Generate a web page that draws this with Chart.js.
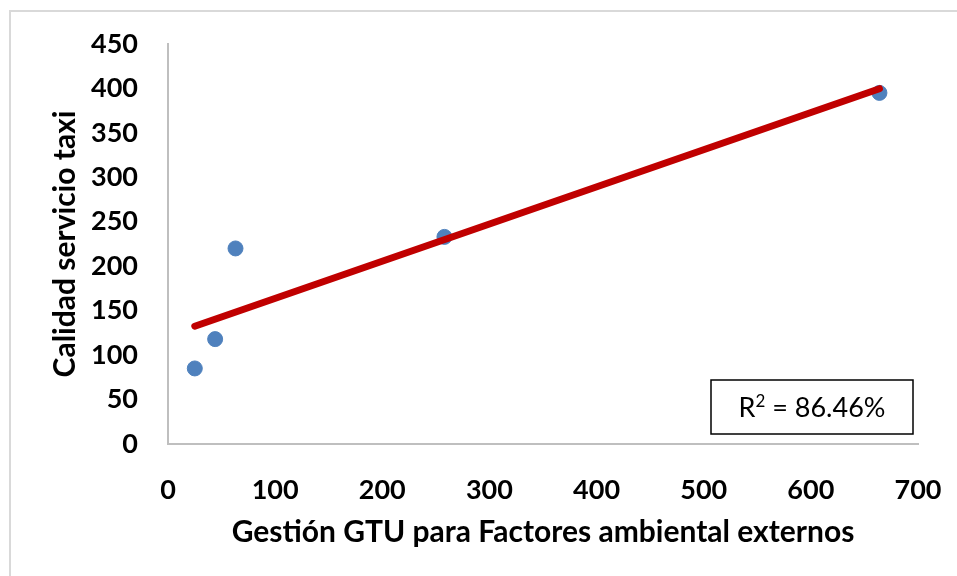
<!DOCTYPE html>
<html>
<head>
<meta charset="utf-8">
<script src="https://cdn.jsdelivr.net/npm/chart.js@4.4.1/dist/chart.umd.min.js"></script>
<style>
  html, body { margin: 0; padding: 0; background: #ffffff; }
  #wrap { width: 957px; height: 576px; position: relative; }
</style>
</head>
<body>
<div id="wrap"><canvas id="c" width="957" height="576"></canvas></div>
<script>
// Observations: management score (x) vs. taxi service quality (y)
const gestionGTU = [25, 44, 63, 258, 664];
const calidadServicio = [85, 118, 220, 233, 395];
const xTicks = [0, 100, 200, 300, 400, 500, 600, 700];
const yTicks = [0, 50, 100, 150, 200, 250, 300, 350, 400, 450];
const r2Parts = ['R', '2', ' = 86.46%'];

const xTitle = 'Gestión GTU para Factores ambiental externos';
const yTitle = 'Calidad servicio taxi';

// Least-squares linear fit over the observed points
function linearFit(xs, ys) {
  const n = xs.length;
  const mx = xs.reduce((a, b) => a + b, 0) / n;
  const my = ys.reduce((a, b) => a + b, 0) / n;
  let sxy = 0, sxx = 0;
  for (let i = 0; i < n; i++) {
    sxy += (xs[i] - mx) * (ys[i] - my);
    sxx += (xs[i] - mx) * (xs[i] - mx);
  }
  const slope = sxy / sxx;
  return { slope, intercept: my - slope * mx };
}
const fit = linearFit(gestionGTU, calidadServicio);
const xMin = Math.min(...gestionGTU), xMax = Math.max(...gestionGTU);
const trendPoints = [xMin, xMax].map(x => ({ x, y: fit.intercept + fit.slope * x }));

const scatterPoints = gestionGTU.map((x, i) => ({ x, y: calidadServicio[i] }));

const FONT = 'Lato, "Open Sans", sans-serif';
const AXIS_GREY = '#bfbfbf';

// Light frame around the chart (top and left edges of the frame are in view)
const framePlugin = {
  id: 'frame',
  beforeDraw(chart) {
    const ctx = chart.ctx;
    ctx.save();
    ctx.strokeStyle = '#d9d9d9';
    ctx.lineWidth = 2;
    ctx.beginPath();
    ctx.moveTo(10, chart.height + 2);
    ctx.lineTo(10, 11);
    ctx.lineTo(chart.width + 2, 11);
    ctx.stroke();
    ctx.restore();
  }
};

// Boxed R² annotation in the lower-right of the plot area
const r2Plugin = {
  id: 'r2box',
  afterDatasetsDraw(chart) {
    const { ctx, chartArea } = chart;
    const w = 202, h = 54;
    const x = chartArea.right - 5 - w;
    const y = chartArea.bottom - 10 - h;
    ctx.save();
    ctx.fillStyle = '#ffffff';
    ctx.fillRect(x, y, w, h);
    ctx.strokeStyle = '#000000';
    ctx.lineWidth = 1.5;
    ctx.strokeRect(x, y, w, h);
    ctx.fillStyle = '#000000';
    ctx.textBaseline = 'alphabetic';
    ctx.textAlign = 'left';
    const big = '27px ' + FONT, small = '17px ' + FONT;
    ctx.font = big;
    const wR = ctx.measureText(r2Parts[0]).width;
    const wRest = ctx.measureText(r2Parts[2]).width;
    ctx.font = small;
    const wSup = ctx.measureText(r2Parts[1]).width;
    const total = wR + wSup + wRest;
    let tx = x + (w - total) / 2;
    const base = y + h / 2 + 10;
    ctx.font = big;
    ctx.fillText(r2Parts[0], tx, base);
    tx += wR;
    ctx.font = small;
    ctx.fillText(r2Parts[1], tx, base - 10);
    tx += wSup;
    ctx.font = big;
    ctx.fillText(r2Parts[2], tx, base);
    ctx.restore();
  }
};

new Chart(document.getElementById('c'), {
  type: 'scatter',
  data: {
    datasets: [
      {
        type: 'line',
        label: 'Tendencia',
        data: trendPoints,
        borderColor: '#c00000',
        borderWidth: 7,
        borderCapStyle: 'round',
        pointRadius: 0,
        fill: false,
        order: 0
      },
      {
        label: 'Observaciones',
        data: scatterPoints,
        backgroundColor: '#4f81bd',
        borderColor: '#4f81bd',
        pointRadius: 7.5,
        pointHoverRadius: 7.5,
        order: 1
      }
    ]
  },
  options: {
    responsive: false,
    animation: false,
    devicePixelRatio: 1,
    layout: { padding: { left: 0, top: 44, right: 39, bottom: 0 } },
    plugins: {
      legend: { display: false },
      tooltip: { enabled: false }
    },
    scales: {
      x: {
        type: 'linear',
        min: 0,
        max: 700,
        afterBuildTicks(axis) { axis.ticks = xTicks.map(v => ({ value: v })); },
        afterFit(axis) {
          axis.height = 576 - 444;
          axis.paddingLeft = 0;
          axis.paddingRight = 0;
        },
        border: { display: true, color: AXIS_GREY, width: 2 },
        grid: { display: false, drawTicks: false },
        ticks: {
          color: '#000000',
          padding: 30,
          maxRotation: 0,
          font: { family: FONT, size: 27, weight: 'bold' }
        },
        title: {
          display: true,
          text: xTitle,
          color: '#000000',
          font: { family: FONT, size: 30, weight: 'bold' },
          padding: { top: 0, bottom: 26 }
        }
      },
      y: {
        type: 'linear',
        min: 0,
        max: 450,
        afterBuildTicks(axis) { axis.ticks = yTicks.map(v => ({ value: v })); },
        afterFit(axis) {
          axis.width = 168;
          axis.paddingTop = 0;
          axis.paddingBottom = 0;
        },
        border: { display: true, color: AXIS_GREY, width: 2 },
        grid: { display: false, drawTicks: false },
        ticks: {
          color: '#000000',
          padding: 30,
          font: { family: FONT, size: 27, weight: 'bold' }
        },
        title: {
          display: true,
          text: yTitle,
          color: '#000000',
          font: { family: FONT, size: 30, weight: 'bold' },
          padding: { top: 47, bottom: 0 }
        }
      }
    }
  },
  plugins: [framePlugin, r2Plugin]
});
</script>
</body>
</html>
